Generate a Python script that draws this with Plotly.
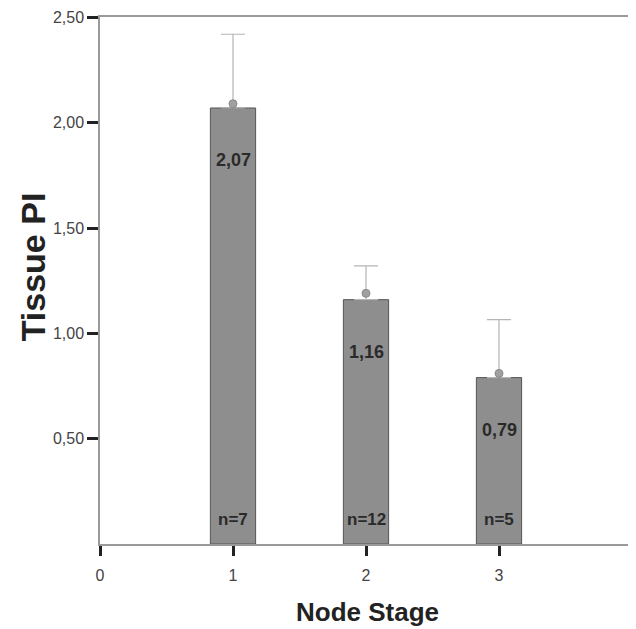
import plotly.graph_objects as go

stages = [1, 2, 3]
means = [2.07, 1.16, 0.79]
upper = [2.42, 1.32, 1.065]
dots = [2.09, 1.19, 0.81]
mean_labels = ["2,07", "1,16", "0,79"]
n_labels = ["n=7", "n=12", "n=5"]
x_ticks = [0, 1, 2, 3]
y_ticks = [0.5, 1.0, 1.5, 2.0, 2.5]

FONT = "Liberation Sans, Arial, sans-serif"

fig = go.Figure()
fig.add_trace(go.Bar(
    x=stages, y=means, width=0.34,
    marker=dict(color="#8e8e8e", line=dict(color="#555555", width=1)),
    error_y=dict(type="data", symmetric=False,
                 array=[u - m for u, m in zip(upper, means)],
                 arrayminus=[0, 0, 0],
                 width=12, thickness=1.2, color="#b5b5b5"),
    showlegend=False, hoverinfo="skip",
))
fig.add_trace(go.Scatter(
    x=stages, y=dots, mode="markers",
    marker=dict(color="#a0a0a0", size=8, line=dict(color="#8a8a8a", width=1)),
    showlegend=False, hoverinfo="skip",
))

for x, m, lab in zip(stages, means, mean_labels):
    fig.add_annotation(x=x, y=m, text="<b>%s</b>" % lab, showarrow=False,
                       yshift=-52, font=dict(family=FONT, size=18, color="#2a2a2a"))
for x, lab in zip(stages, n_labels):
    fig.add_annotation(x=x, y=0, text="<b>%s</b>" % lab, showarrow=False,
                       yshift=25, font=dict(family=FONT, size=17, color="#2a2a2a"))

# axis titles
fig.add_annotation(xref="paper", yref="paper", x=0.502, y=0, yanchor="middle",
                   yshift=-68, text="<b>Node Stage</b>", showarrow=False,
                   font=dict(family=FONT, size=26, color="#222222"))
fig.add_annotation(xref="paper", yref="paper", x=0, y=0.525, xanchor="center",
                   xshift=-67, text="<b>Tissue PI</b>", showarrow=False, textangle=-90,
                   font=dict(family=FONT, size=34, color="#222222"))

fig.update_layout(
    width=628, height=621,
    margin=dict(l=92, r=4, t=9, b=85),
    paper_bgcolor="white", plot_bgcolor="white",
    separators=",.",
    font=dict(family=FONT, color="#444444"),
    xaxis=dict(range=[0, 4], tickvals=x_ticks, ticktext=[str(t) for t in x_ticks],
               ticks="outside", ticklen=10, tickwidth=2.5, tickcolor="#222222",
               showgrid=False, zeroline=False, showline=True, linecolor="#9a9a9a",
               linewidth=1.5, mirror=True, ticklabelstandoff=6, automargin=False,
               tickfont=dict(size=16, color="#444444")),
    yaxis=dict(range=[0, 2.502], tickvals=y_ticks, tickformat=".2f",
               ticks="outside", ticklen=11, tickwidth=2.5, tickcolor="#222222",
               showgrid=False, zeroline=False, showline=True, linecolor="#9a9a9a",
               linewidth=1.5, mirror=True, automargin=False,
               ticklabeloverflow="allow",
               tickfont=dict(size=16, color="#444444")),
)

fig.write_html("out.html")
